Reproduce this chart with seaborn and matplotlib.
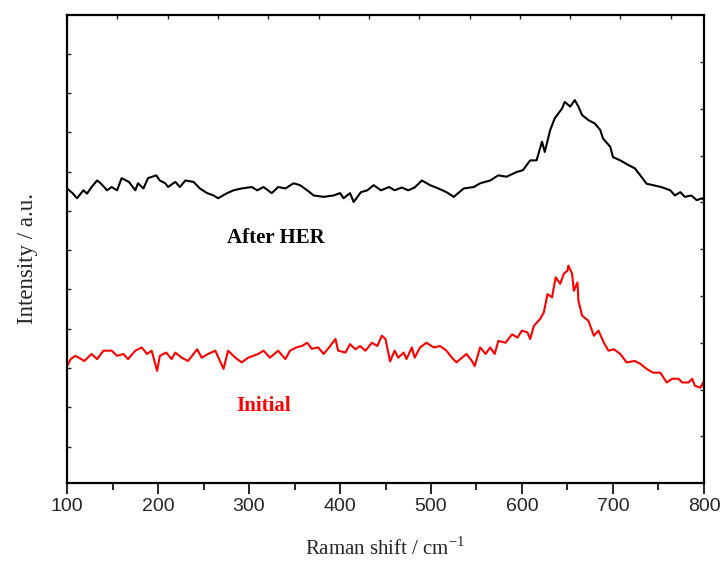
import numpy as np
import pandas as pd
import matplotlib
matplotlib.use("Agg")
import matplotlib.pyplot as plt
import seaborn as sns

# Raman spectra (shift in cm^-1, intensity in arbitrary units)
after_shift = [100, 106, 111, 118, 122, 127, 133, 137, 144, 149, 155, 160, 168, 175, 178, 184,
               189, 198, 202, 208, 211, 219, 224, 230, 239, 246, 254, 261, 266, 276, 283, 292,
               303, 309, 316, 325, 332, 340, 349, 356, 364, 371, 382, 393, 400, 404, 411, 415,
               423, 430, 437, 445, 454, 460, 468, 475, 482, 490, 499, 508, 517, 525, 536, 547,
               554, 565, 574, 583, 594, 601, 609, 616, 622, 625, 631, 636, 644, 647, 653, 658,
               662, 666, 673, 680, 686, 689, 697, 700, 708, 717, 724, 730, 737, 744, 753, 763,
               768, 774, 779, 786, 792, 798, 800]
after_int = [630, 620, 609, 626, 619, 633, 647, 641, 626, 633, 626, 652, 644, 626, 641, 630,
             652, 658, 647, 641, 633, 644, 633, 647, 644, 630, 620, 615, 609, 620, 626, 630,
             633, 626, 633, 620, 633, 630, 641, 637, 626, 615, 612, 615, 620, 609, 620, 601,
             622, 626, 637, 626, 633, 626, 632, 626, 632, 647, 637, 630, 622, 612, 630, 633,
             641, 647, 658, 655, 665, 669, 690, 690, 730, 708, 755, 780, 801, 815, 805, 819,
             805, 787, 776, 769, 755, 737, 719, 697, 690, 680, 673, 658, 640, 637, 633, 626,
             615, 622, 612, 615, 605, 609, 605]

initial_shift = [100, 104, 109, 113, 119, 127, 133, 140, 149, 155, 162, 167, 175, 182, 188, 193,
                 199, 202, 209, 215, 219, 226, 233, 243, 248, 255, 263, 272, 277, 285, 292, 299,
                 310, 316, 323, 332, 340, 345, 352, 358, 364, 369, 376, 382, 388, 395, 398, 406,
                 411, 417, 422, 428, 435, 441, 446, 450, 455, 460, 464, 470, 473, 479, 482, 488,
                 495, 503, 510, 517, 523, 528, 534, 539, 545, 548, 554, 560, 565, 570, 574, 582,
                 589, 595, 600, 606, 609, 613, 620, 624, 628, 633, 637, 642, 646, 650, 651, 655,
                 657, 661, 662, 666, 673, 679, 684, 690, 695, 701, 708, 715, 724, 730, 737, 744,
                 752, 759, 765, 772, 776, 783, 787, 790, 796, 799, 800]
initial_int = [250, 265, 272, 268, 261, 276, 265, 283, 283, 272, 276, 265, 283, 290, 276, 283,
               240, 272, 279, 265, 279, 268, 261, 286, 268, 276, 283, 244, 283, 268, 258, 268,
               276, 283, 268, 283, 265, 283, 290, 293, 300, 287, 290, 276, 290, 308, 283, 279,
               297, 286, 293, 283, 300, 293, 315, 308, 260, 283, 268, 279, 265, 290, 268, 290,
               300, 290, 293, 283, 268, 258, 268, 276, 261, 250, 290, 276, 290, 276, 304, 300,
               318, 311, 326, 322, 308, 336, 351, 365, 404, 397, 440, 426, 448, 454, 465, 448,
               411, 429, 390, 358, 347, 315, 326, 300, 283, 286, 276, 258, 261, 255, 244, 236,
               236, 215, 223, 223, 215, 215, 223, 208, 204, 215, 201]

after_df = pd.DataFrame({"shift": after_shift, "intensity": after_int})
initial_df = pd.DataFrame({"shift": initial_shift, "intensity": initial_int})

sns.set_style("white")
plt.rcParams["font.family"] = ["Liberation Sans", "DejaVu Sans"]

fig = plt.figure(figsize=(7.23, 5.61), dpi=100)
ax = fig.add_axes([0.0927, 0.139, 0.881, 0.8335])

sns.lineplot(data=after_df, x="shift", y="intensity", ax=ax, color="black",
             linewidth=1.5, estimator=None, sort=False)
sns.lineplot(data=initial_df, x="shift", y="intensity", ax=ax, color="#ff0000",
             linewidth=1.5, estimator=None, sort=False)

ax.set_xlim(100, 800)
ax.set_ylim(0, 1000)

for side in ["left", "right", "top", "bottom"]:
    ax.spines[side].set_visible(True)
    ax.spines[side].set_linewidth(1.6)
    ax.spines[side].set_color("black")

# bottom axis: labelled majors every 100, minors every 50, pointing outward
ax.set_xticks(np.arange(100, 801, 100))
ax.set_xticks(np.arange(150, 800, 100), minor=True)
ax.tick_params(axis="x", which="major", direction="out", length=8, width=1.4,
               labelsize=14, pad=3, top=False, bottom=True)
ax.tick_params(axis="x", which="minor", direction="out", length=5, width=1.4,
               top=False, bottom=True)

# left axis: small inward ticks, no labels
ax.set_yticks(np.arange(918, 0, -84))
ax.tick_params(axis="y", which="both", direction="in", length=3, width=1.0,
               left=True, right=False, labelleft=False)

# right axis ticks
axr = ax.twinx()
axr.set_ylim(0, 1000)
axr.set_yticks(np.arange(100, 1000, 100))
axr.tick_params(axis="y", direction="in", length=3, width=1.0, labelright=False)

# top axis ticks
axt = ax.twiny()
axt.set_xlim(0, 12.66)
axt.set_xticks(np.arange(1, 13))
axt.tick_params(axis="x", direction="in", length=3, width=1.0, labeltop=False)
for a in (axr, axt):
    for s in a.spines.values():
        s.set_visible(False)

serif = ["Liberation Serif", "DejaVu Serif"]
ax.set_xlabel(r"Raman shift / cm$^{\mathregular{-1}}$", family=serif, fontsize=15, labelpad=16)
ax.set_ylabel("Intensity / a.u.", family=serif, fontsize=16.5)
ax.yaxis.set_label_coords(-0.045, 0.48)

ax.text(330, 523, "After HER", family=serif, fontsize=15, fontweight="bold",
        color="black", ha="center", va="center")
ax.text(316, 165, "Initial", family=serif, fontsize=15, fontweight="bold",
        color="#ff0000", ha="center", va="center")

fig.savefig("out.png", dpi=100)
